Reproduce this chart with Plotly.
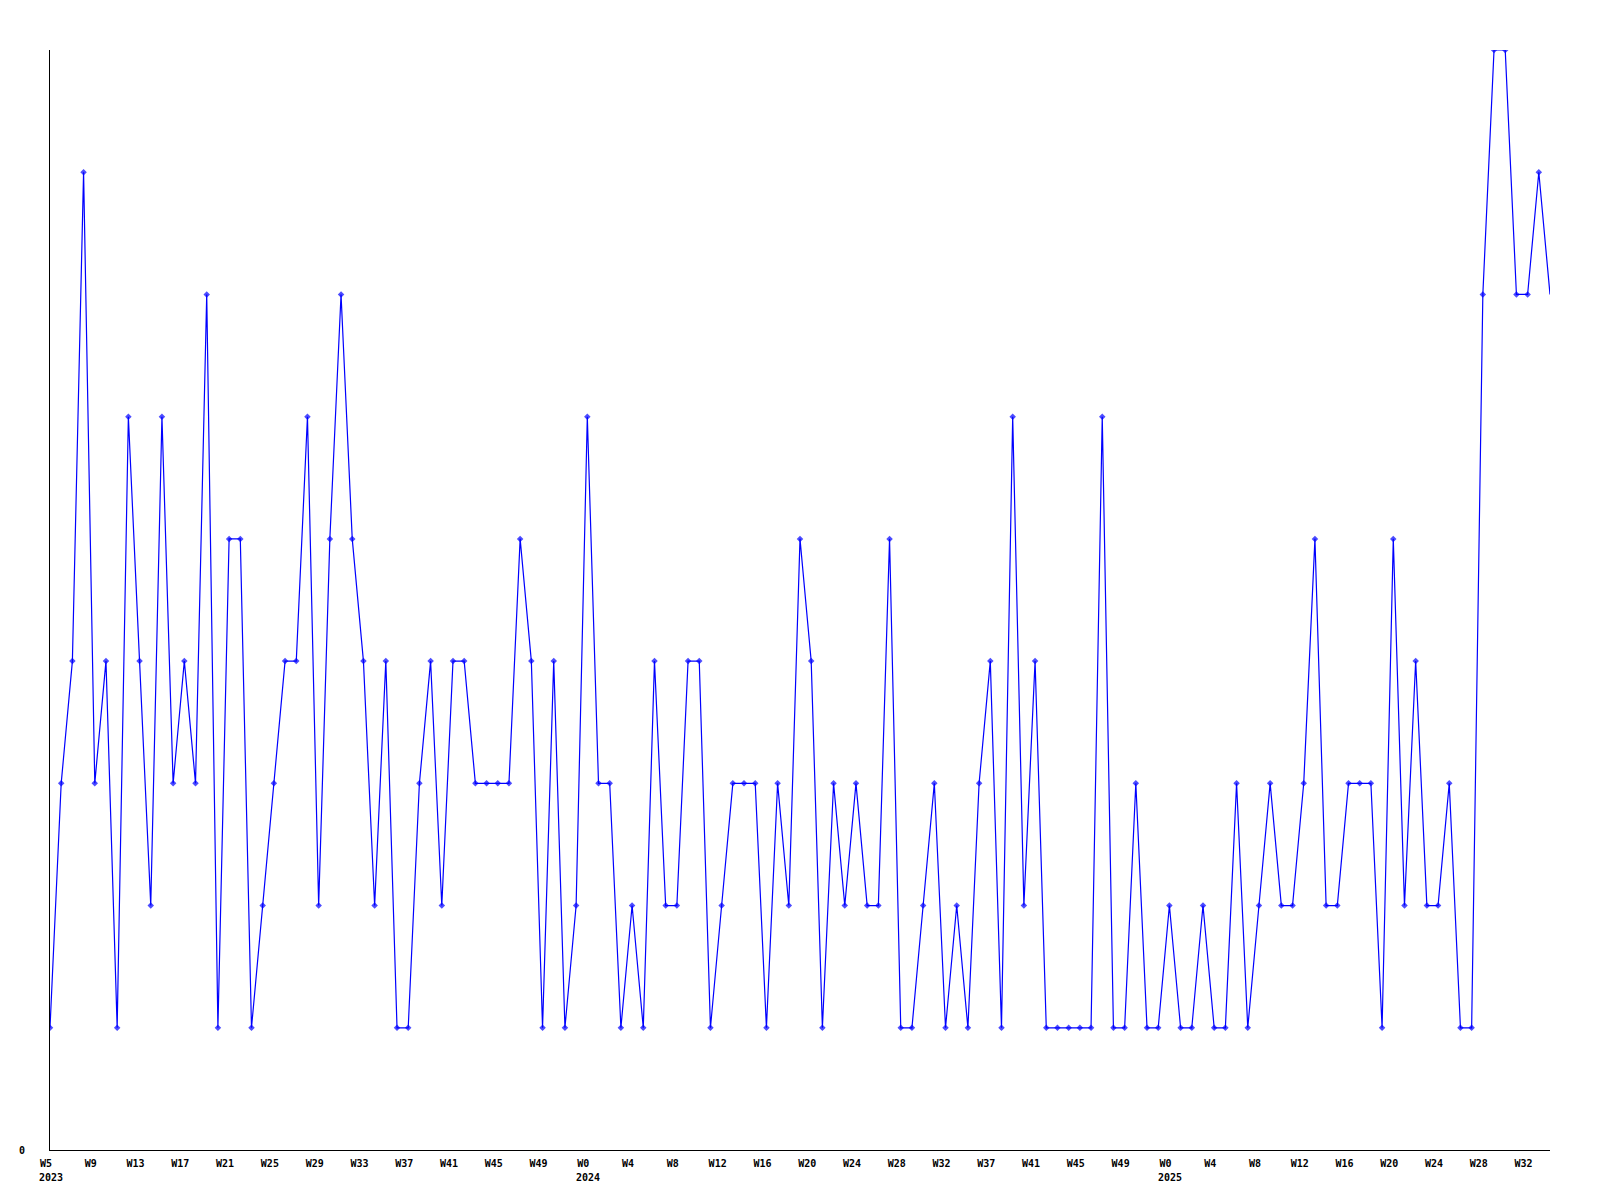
import plotly.graph_objects as go

values = [1, 3, 4, 8, 3, 4, 1, 6, 4, 2, 6, 3, 4, 3, 7, 1, 5, 5, 1, 2,
          3, 4, 4, 6, 2, 5, 7, 5, 4, 2, 4, 1, 1, 3, 4, 2, 4, 4, 3, 3,
          3, 3, 5, 4, 1, 4, 1, 2, 6, 3, 3, 1, 2, 1, 4, 2, 2, 4, 4, 1,
          2, 3, 3, 3, 1, 3, 2, 5, 4, 1, 3, 2, 3, 2, 2, 5, 1, 1, 2, 3,
          1, 2, 1, 3, 4, 1, 6, 2, 4, 1, 1, 1, 1, 1, 6, 1, 1, 3, 1, 1,
          2, 1, 1, 2, 1, 1, 3, 1, 2, 3, 2, 2, 3, 5, 2, 2, 3, 3, 3, 1,
          5, 2, 4, 2, 2, 3, 1, 1, 7, 9, 9, 7, 7, 8, 7]

week_labels = ["W5", "W9", "W13", "W17", "W21", "W25", "W29", "W33", "W37",
               "W41", "W45", "W49", "W0", "W4", "W8", "W12", "W16", "W20",
               "W24", "W28", "W32", "W37", "W41", "W45", "W49", "W0", "W4",
               "W8", "W12", "W16", "W20", "W24", "W28", "W32"]
label_step = 4

year_labels = ["2023", "2024", "2025"]
year_label_index = [0, 12, 25]  # position within week_labels

n = len(values)
xs = list(range(n))
tickvals = [i * label_step for i in range(len(week_labels))]

FONT = dict(family="DejaVu Sans Mono", size=10, color="black", weight="bold")
BLUE = "#0000ff"

marker_sizes = [5] * (n - 1) + [0]

fig = go.Figure()
fig.add_trace(go.Scatter(
    x=xs, y=values, mode="lines+markers",
    line=dict(color=BLUE, width=1.2),
    marker=dict(symbol="diamond", size=marker_sizes, color=BLUE, line=dict(width=0)),
    showlegend=False, hoverinfo="skip",
))

for txt, li in zip(year_labels, year_label_index):
    fig.add_annotation(
        x=tickvals[li], y=0, xref="x", yref="paper",
        text=txt, showarrow=False, xanchor="left", yanchor="top",
        xshift=-13, yshift=-20, font=FONT,
    )

fig.update_layout(
    width=1592, height=1192,
    margin=dict(l=42, r=50, t=42, b=50),
    paper_bgcolor="white", plot_bgcolor="white",
    font=FONT,
    xaxis=dict(
        range=[0, n - 1], showgrid=False, zeroline=False,
        showline=True, linecolor="black", linewidth=1,
        tickvals=tickvals, ticktext=week_labels, ticks="",
        tickfont=FONT, ticklabelshift=-4, ticklabelstandoff=4, tickangle=0,
    ),
    yaxis=dict(
        range=[0, 9], showgrid=False, zeroline=False,
        showline=True, linecolor="black", linewidth=1,
        tickvals=[0], ticktext=["0"], ticks="",
        tickfont=FONT, ticklabelstandoff=22,
    ),
)

fig.write_html("out.html")
